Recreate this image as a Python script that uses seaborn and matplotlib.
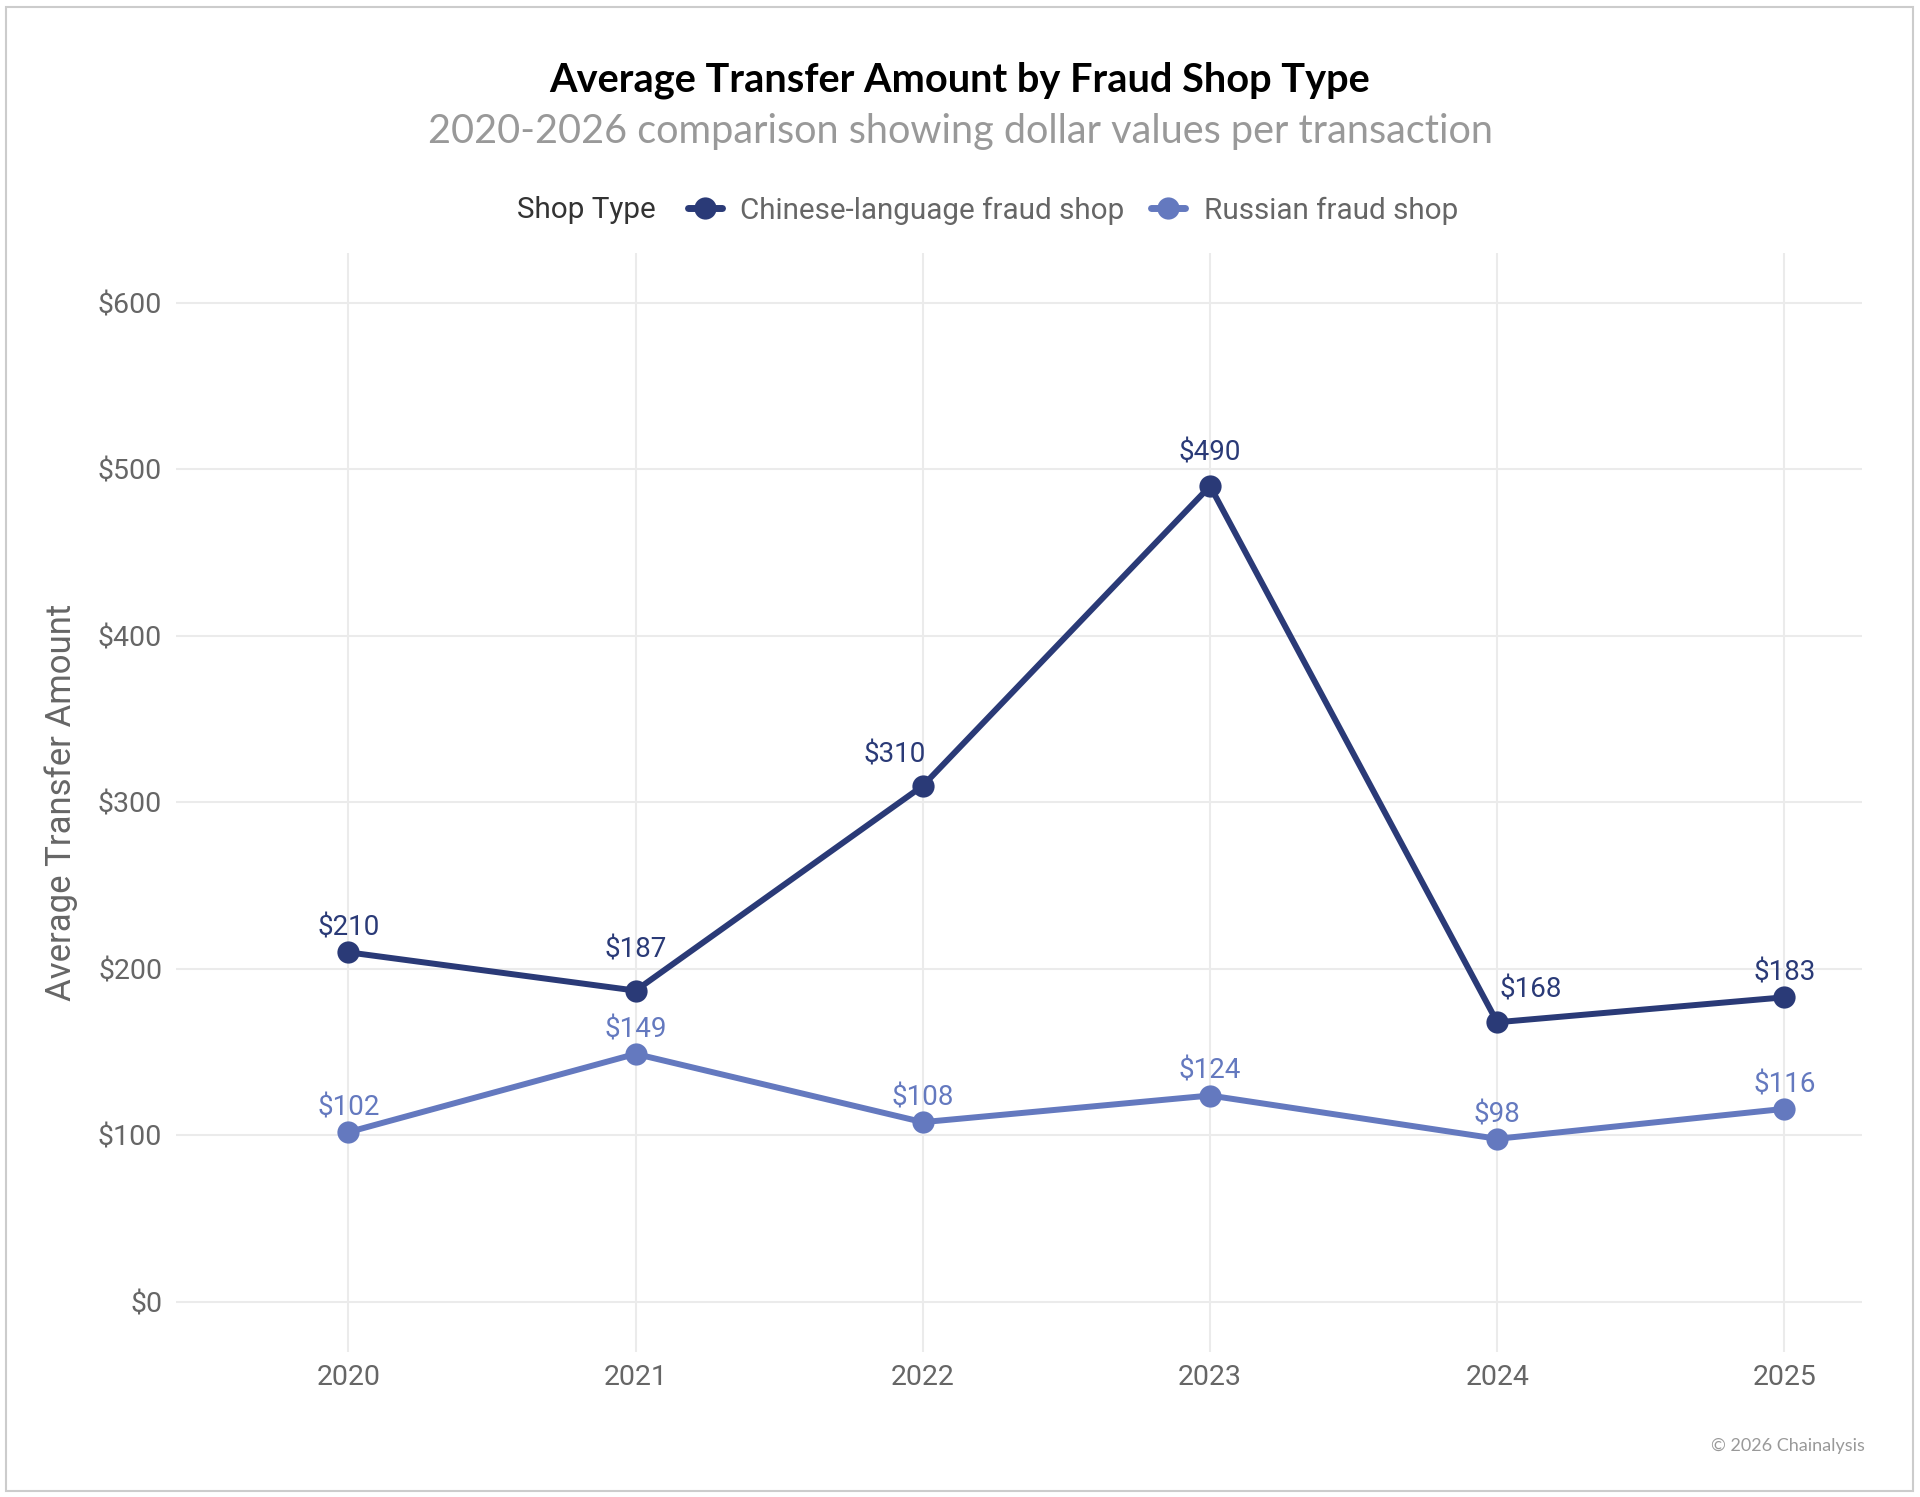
import matplotlib
matplotlib.use("Agg")
import matplotlib.pyplot as plt
from matplotlib.lines import Line2D
from matplotlib.patches import Rectangle
from matplotlib.ticker import FuncFormatter
import seaborn as sns
import pandas as pd

# ---- data ----
years = [2020, 2021, 2022, 2023, 2024, 2025]
chinese_values = [210, 187, 310, 490, 168, 183]
russian_values = [102, 149, 108, 124, 98, 116]
series_names = ["Chinese-language fraud shop", "Russian fraud shop"]
y_ticks = [0, 100, 200, 300, 400, 500, 600]

title = "Average Transfer Amount by Fraud Shop Type"
subtitle = "2020-2026 comparison showing dollar values per transaction"
y_label = "Average Transfer Amount"
legend_title = "Shop Type"
credit = "\u00a9 2026 Chainalysis"

# ---- style ----
colors = {"Chinese-language fraud shop": "#2a3a77", "Russian fraud shop": "#6479bf"}
# label offsets (points) per series / year: (dx, dy)
label_offsets = {
    "Chinese-language fraud shop": [(0, 17.5), (0, 29), (-20, 22), (0, 23.5), (24, 23), (0, 17.5)],
    "Russian fraud shop": [(0, 17.5)] * 6,
}

df = pd.DataFrame({
    "year": years * 2,
    "amount": chinese_values + russian_values,
    "shop": [series_names[0]] * len(years) + [series_names[1]] * len(years),
})

sns.set_theme(style="white")
plt.rcParams["font.family"] = ["Roboto", "DejaVu Sans"]

fig = plt.figure(figsize=(19.2, 14.97), dpi=100)
ax = fig.add_axes([0.0917, 0.0969, 0.8781, 0.7341])

sns.lineplot(data=df, x="year", y="amount", hue="shop", palette=colors,
             marker="o", markersize=16, markeredgewidth=0, linewidth=4.3,
             legend=False, ax=ax, zorder=3)

for name, vals in zip(series_names, [chinese_values, russian_values]):
    for i, (yr, v) in enumerate(zip(years, vals)):
        dx, dy = label_offsets[name][i]
        ax.annotate(f"${v}", (yr, v), xytext=(dx, dy), textcoords="offset points",
                    ha="center", va="center", fontsize=20, color=colors[name], zorder=4)

ax.set_xlim(2019.4, 2025.27)
ax.set_ylim(-30, 630)
ax.set_xticks(years)
ax.set_yticks(y_ticks)
ax.yaxis.set_major_formatter(FuncFormatter(lambda v, p: f"${int(v)}"))
ax.grid(True, color="#ebebeb", linewidth=1.5)
for s in ax.spines.values():
    s.set_visible(False)
ax.tick_params(axis="both", length=0, labelsize=20.5, labelcolor="#666666")
ax.tick_params(axis="y", pad=10)
ax.tick_params(axis="x", pad=8.5)
ax.set_xlabel("")
ax.set_ylabel(y_label, fontsize=25, color="#666666", labelpad=14)

fig.text(0.5, 1 - 80 / 1497, title, ha="center", va="center", fontsize=28.6,
         fontweight="bold", color="#000000", family=["Lato", "DejaVu Sans"])
fig.text(0.5, 1 - 131.5 / 1497, subtitle, ha="center", va="center", fontsize=28.5,
         color="#999999", family=["Lato", "DejaVu Sans"])

fig.text(517 / 1920, 1 - 210.5 / 1497, legend_title, ha="left", va="center",
         fontsize=21.3, color="#333333")
handles = [Line2D([0], [0], color=colors[n], lw=5, marker="o", markersize=16,
                  markeredgewidth=0) for n in series_names]
leg = fig.legend(handles, series_names, loc="center left",
                 bbox_to_anchor=(688 / 1920, 1 - 210.5 / 1497), ncol=2, frameon=False,
                 fontsize=21.3, handlelength=1.15, handletextpad=0.62, columnspacing=0.9,
                 borderpad=0, borderaxespad=0)
for t in leg.get_texts():
    t.set_color("#666666")

fig.text(1865 / 1920, 1 - 1446 / 1497, credit, ha="right", va="center", fontsize=13,
         color="#999999", family=["Lato", "DejaVu Sans"])

fig.add_artist(Rectangle((6 / 1920, 6 / 1497), 1 - 13 / 1920, 1 - 13 / 1497,
                         transform=fig.transFigure, fill=False, edgecolor="#cccccc",
                         linewidth=1.5))

fig.savefig("out.png", dpi=100, facecolor="white")
